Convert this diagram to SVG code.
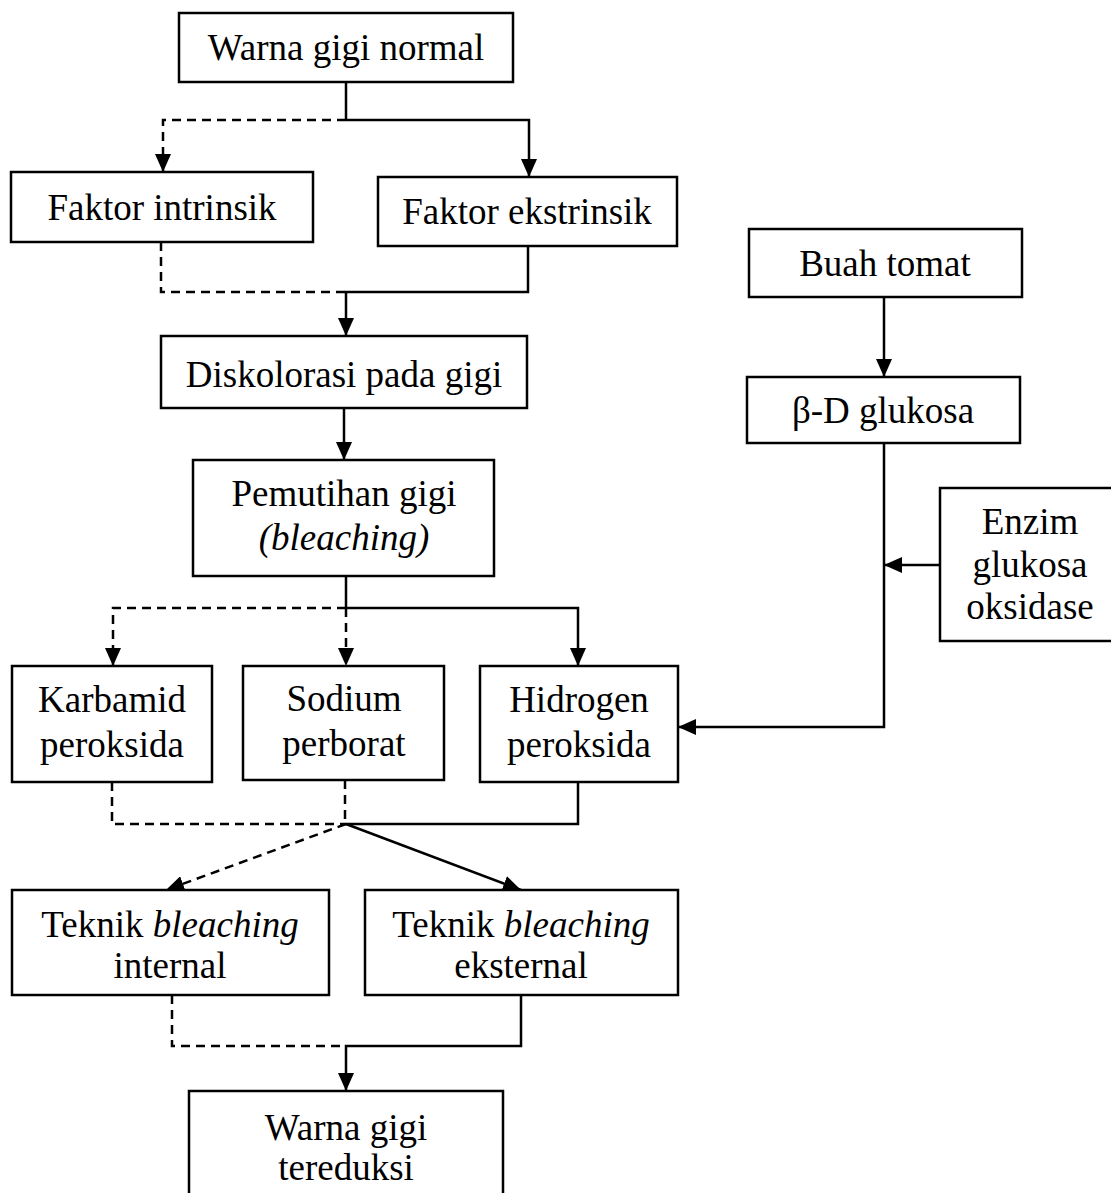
<svg xmlns="http://www.w3.org/2000/svg" width="1111" height="1193" viewBox="0 0 1111 1193">
<style>
.box{fill:#fff;stroke:#000;stroke-width:2.5}
.t{font-family:"Liberation Serif","Times New Roman",serif;font-size:37px;fill:#000;text-anchor:middle}
.i{font-style:italic}
.ln{fill:none;stroke:#000;stroke-width:2.5}
.d{stroke-dasharray:9 6}
</style>
<defs>
<marker id="ah" markerUnits="userSpaceOnUse" markerWidth="18" markerHeight="16" refX="18" refY="8" orient="auto">
<path d="M0,0 L18,8 L0,16 z" fill="#000"/>
</marker>
</defs>
<rect width="1111" height="1193" fill="#fff"/>
<g id="connectors">
<path class="ln" d="M346,82 V120"/>
<path class="ln d" d="M346,120 H163 V172" marker-end="url(#ah)"/>
<path class="ln" d="M346,120 H529 V177" marker-end="url(#ah)"/>
<path class="ln d" d="M161,242 V292 H346"/>
<path class="ln" d="M528,246 V292 H346 V336" marker-end="url(#ah)"/>
<path class="ln" d="M344,408 V460" marker-end="url(#ah)"/>
<path class="ln" d="M346,576 V608"/>
<path class="ln d" d="M346,608 H113 V666" marker-end="url(#ah)"/>
<path class="ln d" d="M346,608 V666" marker-end="url(#ah)"/>
<path class="ln" d="M346,608 H578 V666" marker-end="url(#ah)"/>
<path class="ln d" d="M112,782 V824 H346"/>
<path class="ln d" d="M345,780 V824"/>
<path class="ln" d="M578,782 V824 H346"/>
<path class="ln d" d="M346,824 L166,890" marker-end="url(#ah)"/>
<path class="ln" d="M346,824 L521,890" marker-end="url(#ah)"/>
<path class="ln d" d="M172,995 V1046 H346"/>
<path class="ln" d="M521,995 V1046 H346 V1091" marker-end="url(#ah)"/>
<path class="ln" d="M884,297 V377" marker-end="url(#ah)"/>
<path class="ln" d="M884,443 V727 H678" marker-end="url(#ah)"/>
<path class="ln" d="M940,565 H884" marker-end="url(#ah)"/>
</g>
<g id="n-warna-normal"><rect class="box" x="179" y="13" width="334" height="69"/><text class="t" x="346" y="60">Warna gigi normal</text></g>
<g id="n-intrinsik"><rect class="box" x="11" y="172" width="302" height="70"/><text class="t" x="162" y="220">Faktor intrinsik</text></g>
<g id="n-ekstrinsik"><rect class="box" x="378" y="177" width="299" height="69"/><text class="t" x="527" y="224">Faktor ekstrinsik</text></g>
<g id="n-diskolorasi"><rect class="box" x="161" y="336" width="366" height="72"/><text class="t" x="344" y="387">Diskolorasi pada gigi</text></g>
<g id="n-pemutihan"><rect class="box" x="193" y="460" width="301" height="116"/><text class="t" x="344" y="506">Pemutihan gigi</text><text class="t i" x="344" y="550">(bleaching)</text></g>
<g id="n-karbamid"><rect class="box" x="12" y="666" width="200" height="116"/><text class="t" x="112" y="712">Karbamid</text><text class="t" x="112" y="757">peroksida</text></g>
<g id="n-sodium"><rect class="box" x="243" y="666" width="201" height="114"/><text class="t" x="344" y="711">Sodium</text><text class="t" x="344" y="756">perborat</text></g>
<g id="n-hidrogen"><rect class="box" x="480" y="666" width="198" height="116"/><text class="t" x="579" y="712">Hidrogen</text><text class="t" x="579" y="757">peroksida</text></g>
<g id="n-internal"><rect class="box" x="12" y="890" width="317" height="105"/><text class="t" x="170" y="937">Teknik <tspan class="i">bleaching</tspan></text><text class="t" x="170" y="978">internal</text></g>
<g id="n-eksternal"><rect class="box" x="365" y="890" width="313" height="105"/><text class="t" x="521" y="937">Teknik <tspan class="i">bleaching</tspan></text><text class="t" x="521" y="978">eksternal</text></g>
<g id="n-tereduksi"><rect class="box" x="189" y="1091" width="314" height="110"/><text class="t" x="346" y="1140">Warna gigi</text><text class="t" x="346" y="1180">tereduksi</text></g>
<g id="n-tomat"><rect class="box" x="749" y="229" width="273" height="68"/><text class="t" x="885" y="276">Buah tomat</text></g>
<g id="n-glukosa"><rect class="box" x="747" y="377" width="273" height="66"/><text class="t" x="883" y="423">β-D glukosa</text></g>
<g id="n-enzim"><rect class="box" x="940" y="488" width="180" height="153"/><text class="t" x="1030" y="534">Enzim</text><text class="t" x="1030" y="577">glukosa</text><text class="t" x="1030" y="619">oksidase</text></g>
</svg>
